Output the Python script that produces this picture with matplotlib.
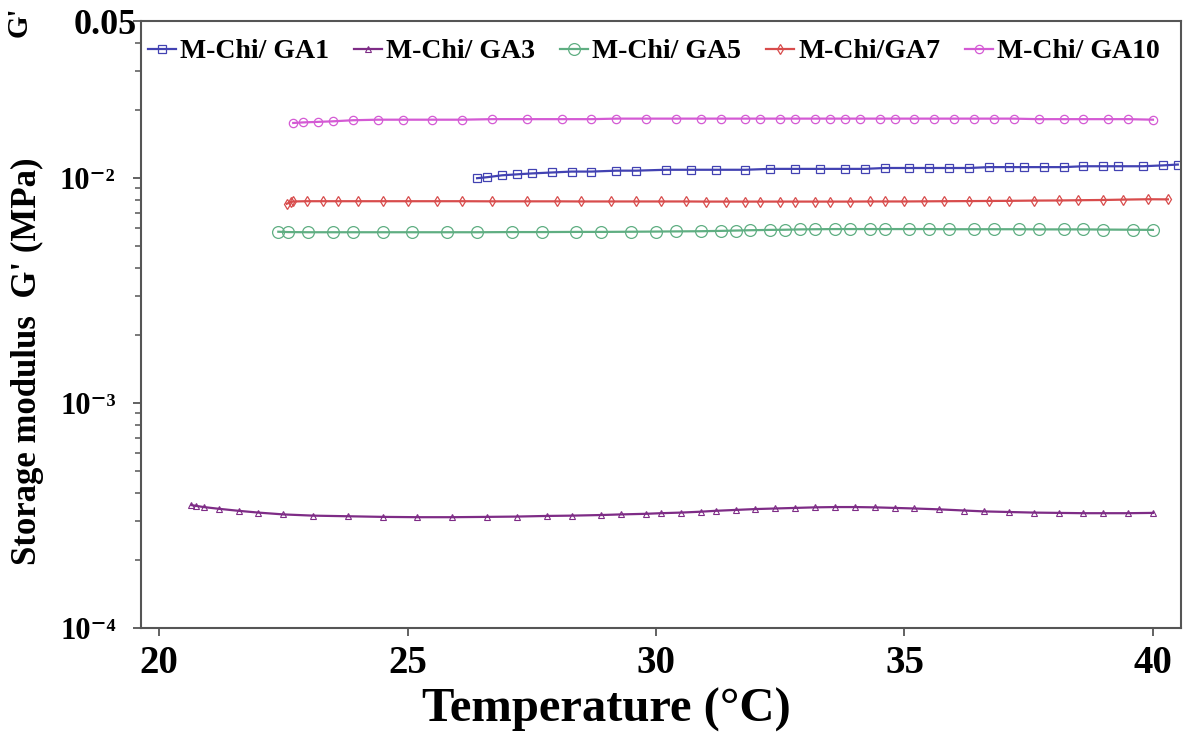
import numpy as np
import matplotlib.pyplot as plt
from matplotlib.ticker import FixedLocator, LogLocator, NullFormatter

# temperature (degC) and storage modulus G' (MPa)
t_ga1 = [26.4, 26.6, 26.9, 27.2, 27.5, 27.9, 28.3, 28.7, 29.2, 29.6, 30.2, 30.7, 31.2, 31.8,
         32.3, 32.8, 33.3, 33.8, 34.2, 34.6, 35.1, 35.5, 35.9, 36.3, 36.7, 37.1, 37.4, 37.8,
         38.2, 38.6, 39.0, 39.3, 39.8, 40.2, 40.5]
g_ga1 = [0.0100, 0.0101, 0.0103, 0.0104, 0.0105, 0.0106, 0.0107, 0.0107, 0.0108, 0.0108,
         0.0109, 0.0109, 0.0109, 0.0109, 0.0110, 0.0110, 0.0110, 0.0110, 0.0110, 0.0111,
         0.0111, 0.0111, 0.0111, 0.0111, 0.0112, 0.0112, 0.0112, 0.0112, 0.0112, 0.0113,
         0.0113, 0.0113, 0.0113, 0.0114, 0.0115]

t_ga3 = [20.65, 20.75, 20.9, 21.2, 21.6, 22.0, 22.5, 23.1, 23.8, 24.5, 25.2, 25.9, 26.6, 27.2,
         27.8, 28.3, 28.9, 29.3, 29.8, 30.1, 30.5, 30.9, 31.2, 31.6, 32.0, 32.4, 32.8, 33.2,
         33.6, 34.0, 34.4, 34.8, 35.2, 35.7, 36.2, 36.6, 37.1, 37.6, 38.1, 38.6, 39.0, 39.5, 40.0]
g_ga3 = [3.52e-4, 3.49e-4, 3.45e-4, 3.39e-4, 3.32e-4, 3.26e-4, 3.20e-4, 3.16e-4, 3.14e-4,
         3.12e-4, 3.11e-4, 3.11e-4, 3.12e-4, 3.13e-4, 3.15e-4, 3.16e-4, 3.18e-4, 3.20e-4,
         3.22e-4, 3.24e-4, 3.26e-4, 3.29e-4, 3.32e-4, 3.35e-4, 3.38e-4, 3.40e-4, 3.42e-4,
         3.44e-4, 3.45e-4, 3.45e-4, 3.44e-4, 3.42e-4, 3.40e-4, 3.37e-4, 3.33e-4, 3.30e-4,
         3.28e-4, 3.26e-4, 3.25e-4, 3.24e-4, 3.24e-4, 3.24e-4, 3.25e-4]

t_ga5 = [22.4, 22.6, 23.0, 23.5, 23.9, 24.5, 25.1, 25.8, 26.4, 27.1, 27.7, 28.4, 28.9, 29.5,
         30.0, 30.4, 30.9, 31.3, 31.6, 31.9, 32.3, 32.6, 32.9, 33.2, 33.6, 33.9, 34.3, 34.6,
         35.1, 35.5, 35.9, 36.4, 36.8, 37.3, 37.7, 38.2, 38.6, 39.0, 39.6, 40.0]
g_ga5 = [0.00578, 0.00576, 0.00575, 0.00575, 0.00575, 0.00575, 0.00575, 0.00575, 0.00575,
         0.00576, 0.00576, 0.00577, 0.00577, 0.00578, 0.00579, 0.00580, 0.00581, 0.00583,
         0.00585, 0.00587, 0.00589, 0.00590, 0.00592, 0.00593, 0.00594, 0.00594, 0.00594,
         0.00594, 0.00594, 0.00594, 0.00593, 0.00593, 0.00593, 0.00593, 0.00592, 0.00592,
         0.00592, 0.00591, 0.00590, 0.00589]

t_ga7 = [22.57, 22.65, 22.7, 22.97, 23.3, 23.6, 24.0, 24.5, 25.0, 25.6, 26.1, 26.7, 27.4, 28.0,
         28.5, 29.1, 29.6, 30.1, 30.6, 31.0, 31.4, 31.8, 32.1, 32.5, 32.8, 33.2, 33.5, 33.9,
         34.3, 34.6, 35.0, 35.4, 35.8, 36.3, 36.7, 37.1, 37.6, 38.1, 38.5, 39.0, 39.4, 39.9, 40.3]
g_ga7 = [0.00770, 0.00782, 0.00788, 0.00790, 0.00790, 0.00790, 0.00790, 0.00790, 0.00790,
         0.00790, 0.00790, 0.00789, 0.00789, 0.00789, 0.00788, 0.00788, 0.00788, 0.00788,
         0.00788, 0.00787, 0.00787, 0.00787, 0.00787, 0.00787, 0.00787, 0.00787, 0.00787,
         0.00787, 0.00788, 0.00788, 0.00788, 0.00789, 0.00790, 0.00791, 0.00792, 0.00793,
         0.00795, 0.00796, 0.00798, 0.00800, 0.00803, 0.00806, 0.00805]

t_ga10 = [22.7, 22.9, 23.2, 23.5, 23.9, 24.4, 24.9, 25.5, 26.1, 26.7, 27.4, 28.1, 28.7, 29.2,
          29.8, 30.4, 30.9, 31.3, 31.8, 32.1, 32.5, 32.8, 33.2, 33.5, 33.8, 34.1, 34.5, 34.8,
          35.2, 35.6, 36.0, 36.4, 36.8, 37.2, 37.7, 38.2, 38.6, 39.1, 39.5, 40.0]
g_ga10 = [0.0176, 0.0177, 0.0178, 0.0179, 0.0181, 0.0182, 0.0182, 0.0182, 0.0182, 0.0183,
          0.0183, 0.0183, 0.0183, 0.0184, 0.0184, 0.0184, 0.0184, 0.0184, 0.0184, 0.0184,
          0.0184, 0.0184, 0.0184, 0.0184, 0.0184, 0.0184, 0.0184, 0.0184, 0.0184, 0.0184,
          0.0184, 0.0184, 0.0184, 0.0184, 0.0183, 0.0183, 0.0183, 0.0183, 0.0183, 0.0182]

x_ticks = [20, 25, 30, 35, 40]
y_ticks = [1e-4, 1e-3, 1e-2, 0.05]
y_labels = ["10\u207b\u2074", "10\u207b\u00b3", "10\u207b\u00b2", ""]

plt.rcParams['font.family'] = ['Liberation Serif', 'DejaVu Serif']
plt.rcParams['font.weight'] = 'bold'

fig = plt.figure(figsize=(11.86, 7.36), dpi=100)
ax = fig.add_axes([0.1186, 0.1467, 0.877, 0.8248])

ax.plot(t_ga1, g_ga1, color="#4242b2", lw=1.6, marker="s", ms=6, mfc="none", mew=0.9,
        label="M-Chi/ GA1")
ax.plot(t_ga3, g_ga3, color="#7e2c86", lw=1.6, marker="^", ms=5, mfc="none", mew=0.8,
        label="M-Chi/ GA3")
ax.plot(t_ga5, g_ga5, color="#5fae82", lw=1.6, marker="o", ms=8.5, mfc="none", mew=0.9,
        label="M-Chi/ GA5")
ax.plot(t_ga7, g_ga7, color="#d84c4c", lw=1.6, marker="d", ms=5, mfc="none", mew=0.9,
        label="M-Chi/GA7")
ax.plot(t_ga10, g_ga10, color="#d45ad4", lw=1.6, marker="o", ms=6, mfc="none", mew=0.9,
        label="M-Chi/ GA10")

ax.set_yscale('log')
ax.set_xlim(19.63, 40.56)
ax.set_ylim(1e-4, 0.05)

ax.set_xticks(x_ticks)
ax.set_xticklabels([str(v) for v in x_ticks], fontsize=28, fontweight='bold')
ax.yaxis.set_major_locator(FixedLocator(y_ticks))
ax.set_yticklabels(y_labels, fontsize=22, fontweight='bold')
ax.yaxis.set_minor_locator(LogLocator(base=10, subs=np.arange(2, 10)))
ax.yaxis.set_minor_formatter(NullFormatter())
ax.tick_params(axis='both', which='major', direction='out', length=6, width=1.3,
               color="#555555", pad=4)
ax.tick_params(axis='y', which='minor', direction='out', length=4, width=1.1, color="#555555")
ax.tick_params(axis='y', pad=12)
ax.tick_params(axis='x', pad=6)
for s in ax.spines.values():
    s.set_color("#555555")
    s.set_linewidth(1.5)

fig.text(0.115, 0.965, "0.05", fontsize=26, fontweight='bold', ha='right', va='center')
fig.text(0.016, 0.97, "G'", fontsize=21, fontweight='bold', rotation=90, ha='center', va='center')
ax.set_ylabel("Storage modulus  G' (MPa)", fontsize=25, fontweight='bold')
ax.yaxis.set_label_coords(-0.093, 0.44)
ax.set_xlabel("Temperature (\u00b0C)", fontsize=35, fontweight='bold')
ax.xaxis.set_label_coords(0.448, -0.098)

ax.legend(ncol=5, loc='upper left', bbox_to_anchor=(-0.01, 1.0), frameon=False,
          handlelength=1.0, handletextpad=0.15, columnspacing=0.9,
          borderaxespad=0.25, prop={'weight': 'bold', 'size': 20})

fig.savefig("out.png", dpi=100)
